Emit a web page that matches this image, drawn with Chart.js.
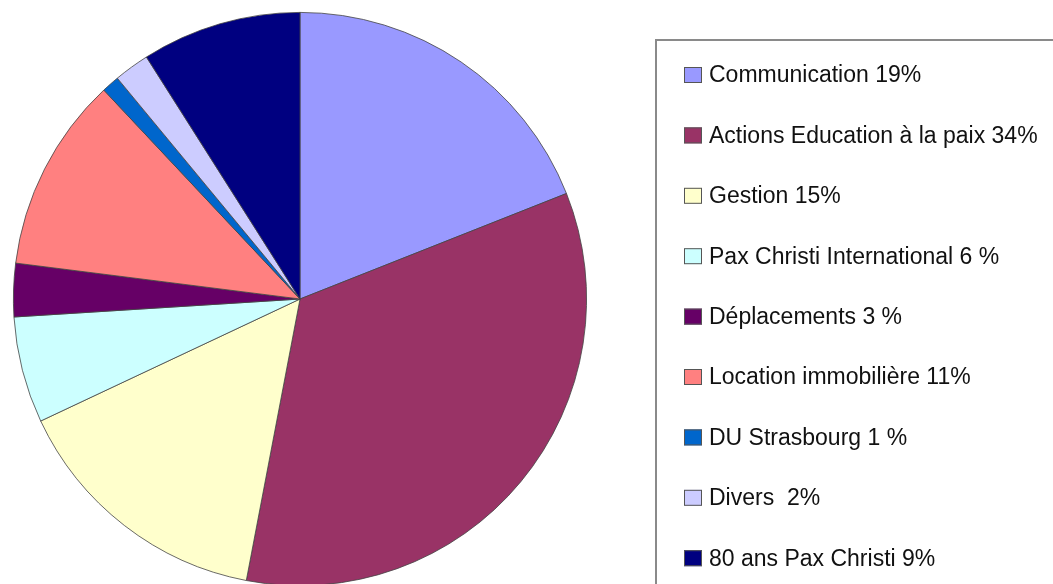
<!DOCTYPE html>
<html>
<head>
<meta charset="utf-8">
<script src="https://cdn.jsdelivr.net/npm/chart.js@4/dist/chart.umd.min.js"></script>
<style>
  html, body { margin: 0; padding: 0; background: #fff; overflow: hidden; }
  #wrap { position: absolute; left: 0; top: 0; width: 1100px; height: 600px; }
</style>
</head>
<body>
<div id="wrap"><canvas id="chart" width="1100" height="600"></canvas></div>
<script>
// Budget categories and shares (percent)
const labels = [
  'Communication 19%',
  'Actions Education à la paix 34%',
  'Gestion 15%',
  'Pax Christi International 6 %',
  'Déplacements 3 %',
  'Location immobilière 11%',
  'DU Strasbourg 1 %',
  'Divers  2%',
  '80 ans Pax Christi 9%'
];
const shares = [19, 34, 15, 6, 3, 11, 1, 2, 9];
const colors = ['#9999FF', '#993366', '#FFFFCC', '#CCFFFF', '#660066', '#FF8080', '#0066CC', '#CCCCFF', '#000080'];

// legend drawn inside the canvas, framed like the original
const boxLegend = {
  id: 'boxLegend',
  afterDraw(chart) {
    const ctx = chart.ctx;
    const ds = chart.data.datasets[0];
    ctx.save();
    ctx.strokeStyle = '#8a8a8a';
    ctx.lineWidth = 2;
    ctx.strokeRect(656, 40, 480, 600);
    ctx.font = '23px "Liberation Sans", Arial, sans-serif';
    ctx.textBaseline = 'middle';
    chart.data.labels.forEach((lab, i) => {
      const y = 75 + i * 60.4;
      ctx.fillStyle = ds.backgroundColor[i];
      ctx.fillRect(684, y - 8, 18, 16);
      ctx.strokeStyle = '#555';
      ctx.lineWidth = 1;
      ctx.strokeRect(684.5, y - 7.5, 17, 15);
      ctx.fillStyle = '#111';
      ctx.fillText(lab, 709, y + 1);
    });
    ctx.restore();
  }
};

new Chart(document.getElementById('chart'), {
  type: 'pie',
  data: {
    labels: labels,
    datasets: [{
      data: shares,
      backgroundColor: colors,
      borderColor: '#444',
      borderWidth: 0.8
    }]
  },
  options: {
    responsive: false,
    animation: false,
    layout: { padding: { left: 13, top: 12, right: 513, bottom: 14 } },
    plugins: {
      legend: { display: false },
      tooltip: { enabled: false }
    }
  },
  plugins: [boxLegend]
});
</script>
</body>
</html>
